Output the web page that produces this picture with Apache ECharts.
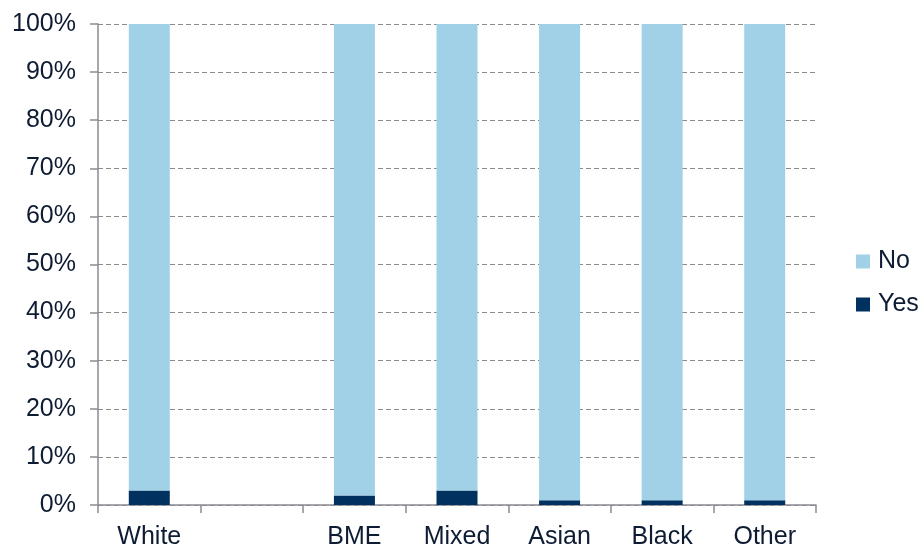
<!DOCTYPE html>
<html>
<head>
<meta charset="utf-8">
<script src="https://cdn.jsdelivr.net/npm/echarts@6/dist/echarts.min.js"></script>
<style>
  html, body { margin: 0; padding: 0; background: #fff; }
  #chart { width: 921px; height: 550px; }
</style>
</head>
<body>
<div id="chart"></div>
<script>
// categories (second slot is an empty gap in the original)
const categories = ['White', '', 'BME', 'Mixed', 'Asian', 'Black', 'Other'];
const yesValues = [3, '-', 2, 3, 1, 1, 1];
const noValues = [97, '-', 98, 97, 99, 99, 99];

const textColor = '#0d1b33';

const chart = echarts.init(document.getElementById('chart'));
chart.setOption({
  animation: false,
  grid: { left: 98, right: 105, top: 24, bottom: 43 },
  legend: {
    data: ['No', 'Yes'],
    orient: 'vertical',
    left: 851,
    top: 244,
    itemWidth: 14,
    itemHeight: 14,
    itemGap: 18,
    icon: 'rect',
    textStyle: { fontFamily: 'Liberation Sans', fontSize: 25, color: textColor, padding: [0, 0, 0, 3] }
  },
  xAxis: {
    type: 'category',
    data: categories,
    axisLine: { lineStyle: { color: '#8a8a93', width: 1.5 } },
    axisTick: { show: true, length: 8, lineStyle: { color: '#8a8a93', width: 1.5 } },
    axisLabel: { fontFamily: 'Liberation Sans', fontSize: 25, color: textColor, margin: 20 }
  },
  yAxis: {
    type: 'value',
    min: 0,
    max: 100,
    interval: 10,
    axisLine: { show: true, lineStyle: { color: '#8a8a93', width: 1.5 } },
    axisTick: { show: true, length: 8, lineStyle: { color: '#8a8a93', width: 1.5 } },
    axisLabel: { fontFamily: 'Liberation Sans', fontSize: 25, color: textColor, margin: 22, formatter: '{value}%' },
    splitLine: { lineStyle: { color: '#8c8c8c', type: [5, 3], width: 1.2 } }
  },
  series: [
    {
      name: 'Yes',
      type: 'bar',
      stack: 'total',
      barWidth: 41,
      itemStyle: { color: '#00315f' },
      data: yesValues
    },
    {
      name: 'No',
      type: 'bar',
      stack: 'total',
      barWidth: 41,
      itemStyle: { color: '#a1d1e7' },
      data: noValues
    }
  ]
});
</script>
</body>
</html>
